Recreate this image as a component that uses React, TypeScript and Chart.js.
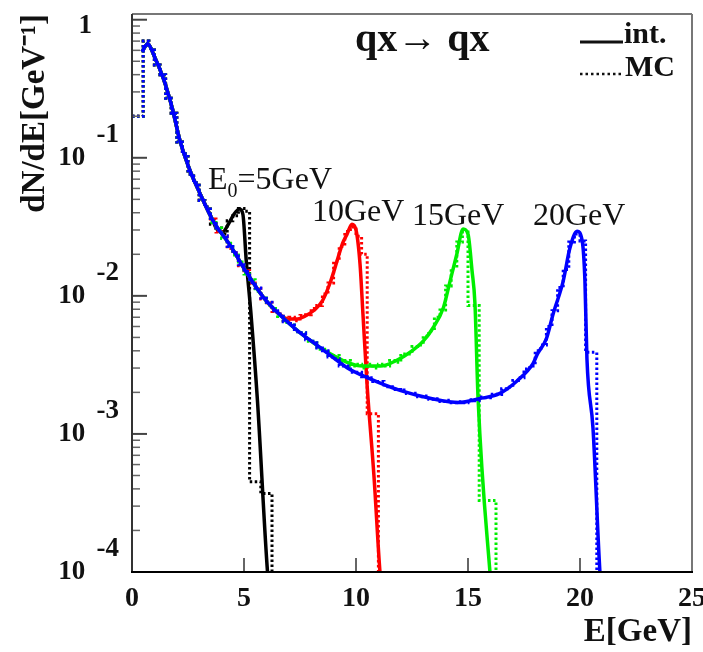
import React, { useEffect, useRef } from 'react';
import { Chart, registerables } from 'chart.js';

Chart.register(...registerables);

// ---------- axes ----------
const X_MIN = 0;
const X_MAX = 25;
const X_STEP = 5;
const Y_MIN = 1e-4;
const Y_MAX = 1.1;
const Y_DECADES = [1e-4, 1e-3, 1e-2, 1e-1, 1];
const X_TITLE = 'E[GeV]';
const Y_TITLE = 'dN/dE[GeV\u207B\u00B9]';

// ---------- series ----------
const SERIES_NAMES = ['5GeV', '10GeV', '15GeV', '20GeV'];
const SERIES_COLORS = ['#000000', '#ff0000', '#00ee00', '#0000ff'];
const PROCESS_LABEL = 'qx\u2192 qx';
const LEGEND_LABELS = ['int.', 'MC'];

// analytic ("int.") curves: common low-energy part
const intCommonE = [0.45, 0.7, 1.0, 1.4, 1.8, 2.15, 2.6, 3.05, 3.6, 4.4, 5.1, 5.85, 6.6, 7.4, 8.4, 9.6, 10.5, 12.0, 13.4];
const intCommonY = [0.587, 0.671, 0.541, 0.375, 0.2275, 0.1315, 0.08, 0.0545, 0.0354, 0.023, 0.0149, 0.00984, 0.0073, 0.00558, 0.00422, 0.00302, 0.00256, 0.00206, 0.0018];

// analytic tails (where each E0 curve leaves the common part)
const int5E = [3.75, 4.05, 4.3, 4.55, 4.8, 4.95, 5.1, 5.3, 5.6, 6.05, 6.3];
const int5Y = [0.031, 0.029, 0.033, 0.039, 0.0425, 0.039, 0.018, 0.0078, 0.00175, 0.0001, 0.00004];
const int10E = [7.0, 7.4, 7.7, 8.1, 8.5, 8.85, 9.15, 9.4, 9.6, 9.82, 10.0, 10.18, 10.31, 10.5, 10.8, 11.07, 11.3];
const int10Y = [0.0068, 0.0068, 0.0071, 0.0078, 0.0092, 0.0125, 0.0178, 0.024, 0.028, 0.033, 0.03, 0.017, 0.0074, 0.0022, 0.0005, 0.0001, 0.00004];
const int15E = [9.0, 9.6, 10.3, 11.1, 11.8, 12.5, 13.0, 13.45, 13.9, 14.2, 14.5, 14.78, 15.0, 15.18, 15.31, 15.45, 15.98, 16.2];
const int15Y = [0.0037, 0.0033, 0.0031, 0.0031, 0.0034, 0.004, 0.0047, 0.0059, 0.0082, 0.0128, 0.02, 0.0305, 0.028, 0.0152, 0.0088, 0.0018, 0.0001, 0.00004];
const int20E = [14.6, 15.5, 16.4, 17.2, 17.9, 18.1, 18.5, 18.8, 19.25, 19.55, 19.87, 20.1, 20.22, 20.31, 20.58, 20.89, 21.1];
const int20Y = [0.00169, 0.0018, 0.00196, 0.00243, 0.00323, 0.0038, 0.0049, 0.0074, 0.0128, 0.0222, 0.0294, 0.0249, 0.0128, 0.0035, 0.0011, 0.0001, 0.00004];

// Monte Carlo histograms, 0.25 GeV bins from 0
const MC_BIN = 0.25;
// bins 0 .. 3.5 GeV (shared by all four samples)
const mcCommon = [0.2, 0.2, 0.7, 0.62, 0.47, 0.4, 0.27, 0.21, 0.13, 0.107, 0.076, 0.066, 0.049, 0.044];
// bins from 3.5 GeV on
const mc5 = [0.033, 0.031, 0.028, 0.035, 0.038, 0.043, 0.041, 0.00045, 0.00045, 0.00037, 0.00037];
const mc10 = [
  0.036, 0.029, 0.027, 0.022, 0.0205, 0.0165, 0.0152, 0.0124, 0.0113, 0.0095, 0.0089, 0.0077,
  0.0074, 0.0066, 0.007, 0.0066, 0.0072, 0.0073, 0.0081, 0.0085, 0.0103, 0.0124, 0.0178, 0.0228,
  0.0292, 0.0315, 0.027, 0.02, 0.0014, 0.0014,
];
const mc15 = [
  0.034, 0.031, 0.026, 0.024, 0.0198, 0.0176, 0.0144, 0.0131, 0.0108, 0.0099, 0.0086, 0.0081,
  0.0071, 0.0064, 0.0063, 0.0055, 0.0054, 0.0047, 0.0047, 0.0041,
  0.0041, 0.0037, 0.0037, 0.0033, 0.0034, 0.0031, 0.0032, 0.003, 0.0032, 0.003, 0.0032, 0.0031,
  0.0034, 0.0033, 0.0038, 0.0038, 0.0043, 0.0044, 0.0051, 0.0056, 0.007, 0.0079, 0.0118, 0.016,
  0.0245, 0.029, 0.0085, 0.0085, 0.00033, 0.00033, 0.00033,
];
const mc20 = [
  0.035, 0.0298, 0.0272, 0.0228, 0.0205, 0.0168, 0.015, 0.0125, 0.0114, 0.0096, 0.009, 0.0078,
  0.0074, 0.0065, 0.0063, 0.0055, 0.0054, 0.0048, 0.0047, 0.0042, 0.004, 0.0036, 0.0035, 0.0031,
  0.0031, 0.0028, 0.0028, 0.0026, 0.00255, 0.0024, 0.0024, 0.0022, 0.0022, 0.0021, 0.00208, 0.00196,
  0.00197, 0.00186, 0.00188, 0.00178,
  0.0018, 0.00172, 0.00175, 0.00168, 0.00171, 0.00168, 0.00177, 0.00174, 0.00185, 0.00183, 0.00194,
  0.00193, 0.00212, 0.00218, 0.00244, 0.00255, 0.00295, 0.0031, 0.004, 0.0044, 0.006, 0.0078, 0.0115,
  0.0155, 0.0245, 0.028, 0.025, 0.0039, 0.0039,
];

const FONT = '"Liberation Serif", "Times New Roman", serif';

function buildInt(tailE: number[], tailY: number[]) {
  const pts: { x: number; y: number }[] = [];
  for (let i = 0; i < intCommonE.length; i++) {
    if (intCommonE[i] < tailE[0]) pts.push({ x: intCommonE[i], y: intCommonY[i] });
  }
  tailE.forEach((e, i) => pts.push({ x: e, y: tailY[i] }));
  return pts;
}

function buildMC(tail: number[]) {
  const vals = mcCommon.concat(tail);
  const pts = vals.map((v, i) => ({ x: i * MC_BIN, y: v }));
  pts.push({ x: vals.length * MC_BIN, y: 1e-6 });
  return pts;
}

const INT_DATA = [buildInt(int5E, int5Y), buildInt(int10E, int10Y), buildInt(int15E, int15Y), buildInt(int20E, int20Y)];
const MC_DATA = [buildMC(mc5), buildMC(mc10), buildMC(mc15), buildMC(mc20)];

const decorPlugin = {
  id: 'decor',
  afterDatasetsDraw(chart: any) {
    const { ctx, chartArea: a, scales } = chart;
    const x = scales.x;
    const y = scales.y;
    ctx.save();
    const seg = (x1: number, y1: number, x2: number, y2: number) => {
      ctx.beginPath();
      ctx.moveTo(x1, y1);
      ctx.lineTo(x2, y2);
      ctx.stroke();
    };
    for (const d of Y_DECADES) {
      for (let m = 1; m <= 9; m++) {
        const v = d * m;
        if (v < Y_MIN || v > Y_MAX) continue;
        const py = y.getPixelForValue(v);
        ctx.strokeStyle = m === 1 ? '#444' : '#666';
        ctx.lineWidth = m === 1 ? 2 : 1.5;
        seg(a.left, py, a.left + (m === 1 ? 15 : 8), py);
      }
    }
    for (let v = X_MIN + X_STEP; v < X_MAX; v += X_STEP) {
      const px = x.getPixelForValue(v);
      ctx.strokeStyle = '#666';
      ctx.lineWidth = 2;
      seg(px, a.bottom, px, a.bottom - 14);
    }
    ctx.lineWidth = 2;
    ctx.strokeStyle = '#777';
    seg(a.left, a.top, a.right, a.top);
    seg(a.right, a.top, a.right, a.bottom);
    ctx.strokeStyle = '#333';
    seg(a.left, a.top, a.left, a.bottom);
    ctx.strokeStyle = '#000';
    seg(a.left - 1, a.bottom, a.right + 1, a.bottom);
    ctx.restore();
  },
  afterDraw(chart: any) {
    const { ctx } = chart;
    ctx.save();
    ctx.fillStyle = '#111';
    ctx.textBaseline = 'alphabetic';
    ctx.textAlign = 'left';
    ctx.font = `bold 40px ${FONT}`;
    ctx.fillText(PROCESS_LABEL, 355, 51);
    ctx.font = `32px ${FONT}`;
    let px = 208;
    ctx.fillText('E', px, 189);
    px += ctx.measureText('E').width;
    ctx.font = `20px ${FONT}`;
    ctx.fillText('0', px, 197);
    px += ctx.measureText('0').width;
    ctx.font = `32px ${FONT}`;
    ctx.fillText('=' + SERIES_NAMES[0], px, 189);
    ctx.fillText(SERIES_NAMES[1], 312, 221);
    ctx.fillText(SERIES_NAMES[2], 412, 225);
    ctx.fillText(SERIES_NAMES[3], 533, 225);
    ctx.strokeStyle = '#111';
    ctx.lineWidth = 3;
    ctx.beginPath();
    ctx.moveTo(580, 42);
    ctx.lineTo(623, 42);
    ctx.stroke();
    ctx.lineWidth = 2.5;
    ctx.setLineDash([2.5, 3]);
    ctx.beginPath();
    ctx.moveTo(580, 74);
    ctx.lineTo(624, 74);
    ctx.stroke();
    ctx.setLineDash([]);
    ctx.font = `bold 30px ${FONT}`;
    ctx.fillText(LEGEND_LABELS[0], 624, 43);
    ctx.fillText(LEGEND_LABELS[1], 625, 76);
    ctx.restore();
  },
};

export default function App() {
  const ref = useRef<HTMLCanvasElement>(null);
  useEffect(() => {
    const datasets: any[] = [];
    for (let i = 0; i < 4; i++) {
      datasets.push({
        label: `int. ${SERIES_NAMES[i]}`,
        data: INT_DATA[i],
        borderColor: SERIES_COLORS[i],
        borderWidth: 3.5,
        pointRadius: 0,
        cubicInterpolationMode: 'monotone',
        fill: false,
        order: (3 - i) * 2,
      });
      datasets.push({
        label: `MC ${SERIES_NAMES[i]}`,
        data: MC_DATA[i],
        borderColor: SERIES_COLORS[i],
        borderWidth: 3,
        borderDash: [2.5, 2.5],
        pointRadius: 0,
        stepped: true,
        fill: false,
        order: (3 - i) * 2 + 1,
      });
    }
    const chart = new Chart(ref.current as HTMLCanvasElement, {
      type: 'line',
      data: { datasets },
      options: {
        animation: false,
        responsive: false,
        devicePixelRatio: 1,
        layout: { padding: { top: 14, right: 11, left: 0, bottom: 0 } },
        plugins: { legend: { display: false }, tooltip: { enabled: false } },
        scales: {
          x: {
            type: 'linear',
            min: X_MIN,
            max: X_MAX,
            grid: { display: false, drawTicks: false },
            border: { display: false },
            ticks: {
              stepSize: X_STEP,
              padding: 10,
              color: '#111',
              font: { family: FONT, size: 28, weight: 'bold' },
              maxRotation: 0,
              autoSkip: false,
            },
            title: {
              display: true,
              text: X_TITLE,
              align: 'end',
              color: '#111',
              padding: 0,
              font: { family: FONT, size: 33, weight: 'bold' },
            },
            afterFit: (s: any) => {
              s.height = 80;
              s.paddingLeft = 0;
              s.paddingRight = 0;
            },
          },
          y: {
            type: 'logarithmic',
            min: Y_MIN,
            max: Y_MAX,
            grid: { display: false, drawTicks: false },
            border: { display: false },
            afterBuildTicks: (s: any) => {
              s.ticks = Y_DECADES.map((v) => ({ value: v, major: true }));
            },
            ticks: {
              padding: 13,
              color: '#111',
              autoSkip: false,
              font: (c: any) => ({
                family: FONT,
                size: 27,
                weight: 'bold',
                lineHeight: c.tick && c.tick.value === 1 ? '12px' : '23px',
              }),
              callback: (value: any) => {
                const v = Number(value);
                if (v === 1) return ['', '1    '];
                const e = Math.round(Math.log10(v));
                return [String(e), '10     ', ''];
              },
            },
            title: {
              display: true,
              text: Y_TITLE,
              align: 'end',
              color: '#111',
              padding: { top: 16, bottom: 0 },
              font: { family: FONT, size: 33, weight: 'bold' },
            },
            afterFit: (s: any) => {
              s.width = 132;
              s.paddingTop = 0;
              s.paddingBottom = 0;
            },
          },
        },
      } as any,
      plugins: [decorPlugin],
    });
    return () => chart.destroy();
  }, []);
  return (
    <div style={{ position: 'fixed', left: 0, top: 0, width: 703, height: 652, background: '#fff' }}>
      <canvas ref={ref} width={703} height={652} style={{ display: 'block', width: 703, height: 652 }} />
    </div>
  );
}
